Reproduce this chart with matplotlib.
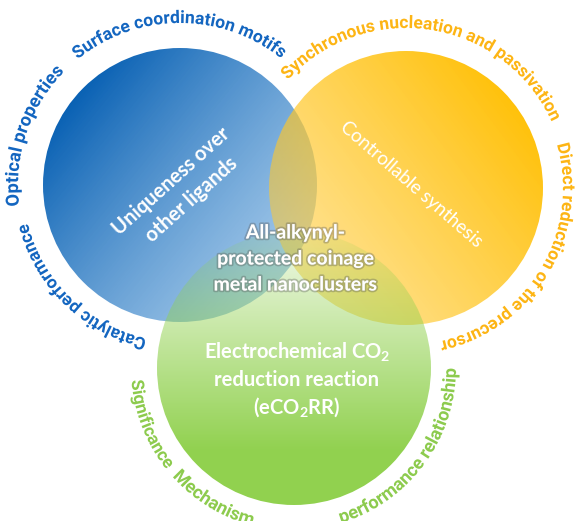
import numpy as np
import matplotlib
matplotlib.use("Agg")
import matplotlib.pyplot as plt
from matplotlib.patches import Circle
from matplotlib.font_manager import FontProperties
from matplotlib.textpath import TextPath
import matplotlib.patheffects as pe

# ---------------- data ----------------
uniq_lines = ["Uniqueness over", "other ligands"]
synth_line = "Controllable synthesis"
eco2_lines = ["Electrochemical CO$_2$", "reduction reaction", "(eCO$_2$RR)"]
center_lines = ["All-alkynyl-", "protected coinage", "metal nanoclusters"]
blue_topics = ["Surface coordination motifs", "Optical properties", "Catalytic performance"]
yellow_topics = ["Synchronous nucleation and passivation", "Direct reduction of the precursor"]
green_topics = ["Significance", "Mechanism", "performance relationship"]

# ---------------- layout ----------------
W, H, DPI = 577, 521, 100
plt.rcParams["mathtext.fontset"] = "custom"
plt.rcParams["mathtext.bf"] = "Lato:bold"
plt.rcParams["mathtext.rm"] = "Lato"
plt.rcParams["mathtext.default"] = "bf"

fig = plt.figure(figsize=(W / DPI, H / DPI), dpi=DPI)
ax = fig.add_axes([0, 0, 1, 1])

R = 137
c_blue, c_yel, c_grn = (180, 185), (406, 188), (294, 368)

yy, xx = np.mgrid[0:H, 0:W] + 0.5


def gradient(p0, p1, rgba0, rgba1):
    d = np.subtract(p1, p0).astype(float)
    t = ((xx - p0[0]) * d[0] + (yy - p0[1]) * d[1]) / d.dot(d)
    t = np.clip(t, 0, 1)[..., None]
    return np.array(rgba0) * (1 - t) + np.array(rgba1) * t


def disc(center, img, z):
    im = ax.imshow(img, extent=(0, W, H, 0), origin="upper",
                   interpolation="bilinear", zorder=z)
    circ = Circle(center, R, transform=ax.transData, facecolor="none", edgecolor="none")
    ax.add_patch(circ)
    im.set_clip_path(circ)


disc(c_blue, gradient((70, 95), (305, 285), (0.02, 0.37, 0.70, 1.0),
                      (0.42, 0.66, 0.87, 0.55)), 1)
disc(c_yel, gradient((545, 115), (270, 320), (1.0, 0.75, 0.0, 1.0),
                     (1.0, 0.80, 0.25, 0.45)), 2)
disc(c_grn, gradient((294, 240), (294, 450), (0.57, 0.82, 0.31, 0.15),
                     (0.57, 0.82, 0.31, 1.0)), 3)
ax.set_xlim(0, W)
ax.set_ylim(H, 0)
ax.axis("off")

# ---------------- text along arcs (one real text per glyph) ----------------
RING_FAMILY = "Roboto"
RING_PROP = FontProperties(family=RING_FAMILY, weight="bold")
AS_PATH = [pe.Normal()]   # draw glyphs as outlines -> exact placement


def ink(s, size):
    return TextPath((0, 0), s, size=size, prop=RING_PROP).get_extents()


def glyph_layout(s, size):
    """(pen origin x, ink centre x) of every glyph of the laid-out string."""
    out = []
    for i, ch in enumerate(s):
        if ch == " ":
            out.append(None)
            continue
        right = ink(s[:i + 1], size).x1
        e = ink(ch, size)
        out.append((right - e.x1, right - e.width / 2))
    return out


def arc_text(s, c, rc, a0, a1=None, size=None, outward=True, color="k"):
    """Place the characters of s along a circle around c.
    a0/a1: angles (deg) of the first / last glyph centres; size in pixels."""
    rb = rc - 4 if outward else rc + 4
    sign = -1 if outward else 1
    if a1 is not None:
        g = glyph_layout(s, 10.0)
        size = abs(np.radians(a1 - a0)) * rb / (g[-1][1] - g[0][1]) * 10.0
    g = glyph_layout(s, size)
    c0 = g[0][1]
    for ch, item in zip(s, g):
        if item is None:
            continue
        pen, cen = item
        th = np.radians(a0) + sign * (cen - c0) / rb
        if outward:
            tx, ty = np.sin(th), -np.cos(th)
        else:
            tx, ty = -np.sin(th), np.cos(th)
        vx = rb * np.cos(th) - (cen - pen) * tx
        vy = rb * np.sin(th) - (cen - pen) * ty
        rot = np.degrees(th) - 90 if outward else np.degrees(th) + 90
        ax.text(c[0] + vx, c[1] - vy, ch, rotation=rot, rotation_mode="anchor",
                ha="left", va="baseline", fontsize=size * 72 / DPI, color=color,
                family=RING_FAMILY, fontweight="bold", zorder=6,
                path_effects=AS_PATH)
    return size


BLUE_T, YEL_T, GRN_T = "#1466C0", "#FDB515", "#8DCB4E"
arc_text(blue_topics[0], c_blue, 166, 127.3, 52.9, color=BLUE_T)
arc_text(blue_topics[1], c_blue, 166, 185.2, 137.2, color=BLUE_T)
arc_text(blue_topics[2], c_blue, 161, 255.7, 195.8, color=BLUE_T)
arc_text(yellow_topics[0], c_yel, 164, 135.7, 26.1, color=YEL_T)
arc_text(yellow_topics[1], c_yel, 161, 14.0, -76.6, color=YEL_T)
gs = arc_text(green_topics[2], c_grn, 158, 288.7, 358.2, outward=False, color=GRN_T)
arc_text(green_topics[0], c_grn, 159, 186.2, 216.9, outward=False, color=GRN_T)
arc_text(green_topics[1], c_grn, 159, 224.5, size=gs, outward=False, color=GRN_T)

# ---------------- inner labels ----------------
INNER = "Lato"
for line, (x, y) in zip(uniq_lines, [(171, 181), (192, 200)]):
    ax.text(x, y, line, rotation=42, rotation_mode="anchor", ha="center",
            va="center", fontsize=14.5, fontweight="bold", color="white",
            family=INNER, zorder=7)

ax.text(411, 184, synth_line, rotation=-41, rotation_mode="anchor", ha="center",
        va="center", fontsize=13.5, color="white", family=INNER, zorder=7)

shadow = [pe.withStroke(linewidth=2.5, foreground=(0.35, 0.35, 0.35, 0.35))]
for line, y in zip(center_lines, [233, 259, 285]):
    ax.text(296, y, line, ha="center", va="center", fontsize=14,
            fontweight="bold", color="white", family=INNER, zorder=7,
            path_effects=shadow)

for line, y in zip(eco2_lines, [352, 380, 407]):
    ax.text(297, y, line, ha="center", va="center", fontsize=14.5,
            fontweight="bold", color="white", family=INNER, zorder=7)

fig.savefig("out.png", dpi=DPI)
